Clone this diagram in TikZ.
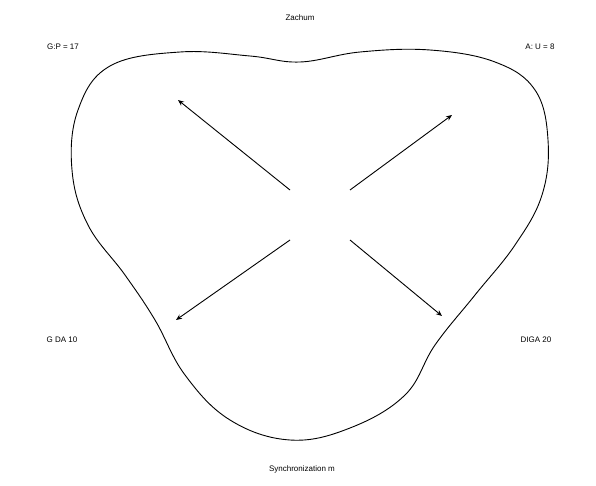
\documentclass[tikz,border=0pt]{standalone}
\usepackage{fontspec}
\setmainfont{Liberation Sans}
\usetikzlibrary{arrows.meta}
\begin{document}
\begin{tikzpicture}[x=1pt,y=-1pt,
  lbl/.style={font=\footnotesize, inner sep=1pt},
  arr/.style={-{Stealth[length=6pt,width=5pt]}, line width=0.9pt}]
\useasboundingbox (0,0) rectangle (596,486);
\draw[line width=0.9pt] plot[smooth cycle, tension=0.65] coordinates {
 (300,62) (250,56) (180,52) (110,66) (78,110) (72,170) (88,225) (125,275)
 (155,320) (185,375) (230,420) (290,440) (350,428) (405,395) (435,345)
 (475,295) (515,245) (542,195) (548,140) (535,90) (495,62) (430,50) (360,52)};
\coordinate (c1) at (290,190);
\coordinate (c2) at (350,190);
\coordinate (c3) at (290,240);
\coordinate (c4) at (350,240);
\coordinate (e1) at (178,100);
\coordinate (e2) at (452,115);
\coordinate (e3) at (176,320);
\coordinate (e4) at (442,316);
\draw[arr] (c1) -- (e1);
\draw[arr] (c2) -- (e2);
\draw[arr] (c3) -- (e3);
\draw[arr] (c4) -- (e4);
\node[lbl] (top) at (300,18) {Zachum};
\node[lbl] (lt) at (63,47) {G:P = 17};
\node[lbl] (rt) at (540,47) {A: U = 8};
\node[lbl] (lb) at (62,340) {G DA 10};
\node[lbl] (rb) at (536,340) {DIGA 20};
\node[lbl] (bot) at (302,469) {Synchronization m};
\end{tikzpicture}
\end{document}
